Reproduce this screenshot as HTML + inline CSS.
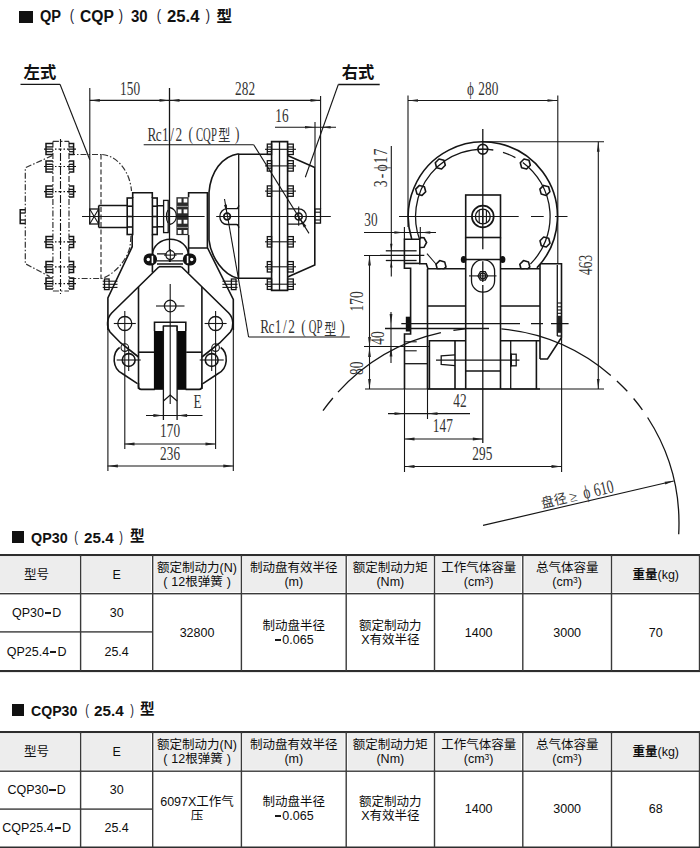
<!DOCTYPE html>
<html><head><meta charset="utf-8"><title>QP(CQP)30(25.4)</title><style>
html,body{margin:0;padding:0;background:#fff}
body{width:700px;height:848px;position:relative;overflow:hidden;font-family:"Liberation Sans","Noto Sans CJK SC",sans-serif;color:#0d0d0d}
.dw{position:absolute;left:0;top:0}
.ttl{position:absolute;left:0;width:400px;height:20px;font-weight:bold;font-size:15px;line-height:20px;white-space:nowrap;color:#111}
.ttl span,.ttl i,.ttl b{position:absolute;top:0}
.ttl i{background:#111}
.ttl b{font-weight:normal;color:#223}
.tb{position:absolute;left:0}
.c{position:absolute;display:flex;align-items:center;justify-content:center;text-align:center;font-size:12.5px;line-height:14px;white-space:nowrap}
.c s{display:inline-block;width:6.4px;height:2px;background:#1a1a1a;vertical-align:3.2px;margin:0 1px;text-decoration:none}
.c u{text-decoration:none;display:inline-block;width:12px}
.c sup{font-size:8.5px;line-height:0;vertical-align:3.5px}
.lbl{position:absolute;font-size:16.3px;line-height:16.3px;white-space:nowrap;color:#111;font-weight:bold}
</style></head><body>
<svg class="dw" width="700" height="545" viewBox="0 0 700 545" fill="none" stroke="#151515" stroke-linecap="butt"><path d="M52.9 141.4L52.9 291" stroke-width="1.2" stroke-dasharray="6 2 1.5 2" stroke="#333"/>
<path d="M69 141.4L69 291" stroke-width="1.2" stroke-dasharray="6 2 1.5 2" stroke="#333"/>
<path d="M60.5 139L60.5 294" stroke-width="1.1" stroke-dasharray="8 2 2 2"/>
<path d="M52.9 141.4L69 141.4" stroke-width="1.2" stroke-dasharray="6 2 1.5 2" stroke="#333"/>
<path d="M52.9 291L69 291" stroke-width="1.2" stroke-dasharray="6 2 1.5 2" stroke="#333"/>
<path d="M52.3 155.6L25.3 167.8L25.3 263.7L49.7 276.6" stroke-width="1.2" stroke-dasharray="6 2 1.5 2" stroke="#333"/>
<path d="M69 154.5L102.2 154.5" stroke-width="1.2" stroke-dasharray="6 2 1.5 2" stroke="#333"/>
<path d="M101 154.5L101 279" stroke-width="1.2" stroke-dasharray="5 2.5" stroke="#333"/>
<path d="M102.2 154.5C118 156 130 172 131.5 191" stroke-width="1.2" stroke-dasharray="6 2 1.5 2" stroke="#333"/>
<path d="M131 236L130 247C126 262 114 274 102.2 278.5L69 278.5" stroke-width="1.2" stroke-dasharray="6 2 1.5 2" stroke="#333"/>
<path d="M25.3 209.7L20.2 209.7L20.2 223.5L25.3 223.5" stroke-width="1.5" />
<path d="M20.2 213L25.3 213" stroke-width="1.3" />
<path d="M20.2 220L25.3 220" stroke-width="1.3" />
<path d="M52.9 143.6L46 143.6L46 154.6L52.9 154.6" stroke-width="1.5" />
<path d="M69 143.6L73.6 143.6L73.6 154.6L69 154.6" stroke-width="1.5" />
<path d="M44 149.1L76 149.1" stroke-width="1.1" stroke-dasharray="9 2 1.5 2 3 2 1.5 2"/>
<path d="M46 146.9L52.9 146.9" stroke-width="1.3" />
<path d="M46 151.7L52.9 151.7" stroke-width="1.3" />
<path d="M69 146.9L73.6 146.9" stroke-width="1.3" />
<path d="M69 151.7L73.6 151.7" stroke-width="1.3" />
<path d="M52.9 161L46 161L46 172L52.9 172" stroke-width="1.5" />
<path d="M69 161L73.6 161L73.6 172L69 172" stroke-width="1.5" />
<path d="M44 166.5L76 166.5" stroke-width="1.1" stroke-dasharray="9 2 1.5 2 3 2 1.5 2"/>
<path d="M46 164.3L52.9 164.3" stroke-width="1.3" />
<path d="M46 169.1L52.9 169.1" stroke-width="1.3" />
<path d="M69 164.3L73.6 164.3" stroke-width="1.3" />
<path d="M69 169.1L73.6 169.1" stroke-width="1.3" />
<path d="M52.9 186.1L46 186.1L46 197.1L52.9 197.1" stroke-width="1.5" />
<path d="M69 186.1L73.6 186.1L73.6 197.1L69 197.1" stroke-width="1.5" />
<path d="M44 191.6L76 191.6" stroke-width="1.1" stroke-dasharray="9 2 1.5 2 3 2 1.5 2"/>
<path d="M46 189.4L52.9 189.4" stroke-width="1.3" />
<path d="M46 194.2L52.9 194.2" stroke-width="1.3" />
<path d="M69 189.4L73.6 189.4" stroke-width="1.3" />
<path d="M69 194.2L73.6 194.2" stroke-width="1.3" />
<path d="M52.9 236.4L46 236.4L46 247.4L52.9 247.4" stroke-width="1.5" />
<path d="M69 236.4L73.6 236.4L73.6 247.4L69 247.4" stroke-width="1.5" />
<path d="M44 241.9L76 241.9" stroke-width="1.1" stroke-dasharray="9 2 1.5 2 3 2 1.5 2"/>
<path d="M46 239.7L52.9 239.7" stroke-width="1.3" />
<path d="M46 244.5L52.9 244.5" stroke-width="1.3" />
<path d="M69 239.7L73.6 239.7" stroke-width="1.3" />
<path d="M69 244.5L73.6 244.5" stroke-width="1.3" />
<path d="M52.9 261.4L46 261.4L46 272.4L52.9 272.4" stroke-width="1.5" />
<path d="M69 261.4L73.6 261.4L73.6 272.4L69 272.4" stroke-width="1.5" />
<path d="M44 266.9L76 266.9" stroke-width="1.1" stroke-dasharray="9 2 1.5 2 3 2 1.5 2"/>
<path d="M46 264.7L52.9 264.7" stroke-width="1.3" />
<path d="M46 269.5L52.9 269.5" stroke-width="1.3" />
<path d="M69 264.7L73.6 264.7" stroke-width="1.3" />
<path d="M69 269.5L73.6 269.5" stroke-width="1.3" />
<path d="M52.9 278.1L46 278.1L46 289.1L52.9 289.1" stroke-width="1.5" />
<path d="M69 278.1L73.6 278.1L73.6 289.1L69 289.1" stroke-width="1.5" />
<path d="M44 283.6L76 283.6" stroke-width="1.1" stroke-dasharray="9 2 1.5 2 3 2 1.5 2"/>
<path d="M46 281.4L52.9 281.4" stroke-width="1.3" />
<path d="M46 286.2L52.9 286.2" stroke-width="1.3" />
<path d="M69 281.4L73.6 281.4" stroke-width="1.3" />
<path d="M69 286.2L73.6 286.2" stroke-width="1.3" />
<rect x="89.7" y="209" width="9" height="15" stroke-width="1.3" />
<path d="M89.7 209L98.7 224" stroke-width="1.1" />
<path d="M98.7 209L89.7 224" stroke-width="1.1" />
<path d="M98.7 205.5L127.5 205.5M98.7 227.5L127.5 227.5M98.7 205.5L98.7 227.5" stroke-width="1.6" />
<rect x="127.2" y="198" width="5.5" height="36.5" stroke-width="1.6" />
<path d="M127.2 206.2L132.7 206.2" stroke-width="1.6" />
<path d="M127.2 216.5L132.7 216.5" stroke-width="1.6" />
<path d="M127.2 227L132.7 227" stroke-width="1.6" />
<path d="M132.7 198L132.7 192.7L152.3 192.7L152.3 198" stroke-width="1.6" />
<rect x="152.4" y="198" width="4.8" height="36.5" stroke-width="1.6" />
<path d="M152.4 206.2L157.2 206.2" stroke-width="1.6" />
<path d="M152.4 216.5L157.2 216.5" stroke-width="1.6" />
<path d="M152.4 227L157.2 227" stroke-width="1.6" />
<path d="M157.2 205.8L163.6 205.8M157.2 226.8L163.6 226.8" stroke-width="1.6" />
<rect x="163.6" y="200.4" width="4.6" height="32.2" stroke-width="1.3" />
<path d="M169.5 207.5C178.7 209 178.7 223 169.5 224.5" stroke-width="1.3" />
<path d="M168 210C165.8 213 165.8 220 168 223" stroke-width="1.1" />
<rect x="176.4" y="197.2" width="12.2" height="37.9" fill="#2b2b2b" stroke="none"/>
<rect x="177.8" y="198.6" width="3.7" height="3.9" fill="#fff" stroke="none"/>
<rect x="177.8" y="209.4" width="3.7" height="3.9" fill="#fff" stroke="none"/>
<rect x="177.8" y="219.8" width="3.7" height="3.9" fill="#fff" stroke="none"/>
<rect x="177.8" y="230" width="3.7" height="3.9" fill="#fff" stroke="none"/>
<rect x="183.6" y="198.6" width="3.7" height="3.9" fill="#fff" stroke="none"/>
<rect x="183.6" y="209.4" width="3.7" height="3.9" fill="#fff" stroke="none"/>
<rect x="183.6" y="219.8" width="3.7" height="3.9" fill="#fff" stroke="none"/>
<rect x="183.6" y="230" width="3.7" height="3.9" fill="#fff" stroke="none"/>
<rect x="176.9" y="205.9" width="11.2" height="1" fill="#999" stroke="none"/>
<rect x="176.9" y="226.9" width="11.2" height="1" fill="#999" stroke="none"/>
<path d="M188.6 197.2L188.6 192.7L207.4 192.7L207.4 248L188.6 248" stroke-width="1.6" />
<path d="M82 216.5L204.6 216.5" stroke-width="1.1" />
<path d="M169.5 88L169.5 262" stroke-width="1.3" />
<path d="M132.2 234.5L132.2 246.7L107.9 298L107.9 330" stroke-width="1.6" />
<path d="M152.4 234.5L152.4 272.5" stroke-width="1.6" />
<path d="M188.6 235L188.6 273" stroke-width="1.6" />
<path d="M207.6 248L233.3 299.4L233.3 330" stroke-width="1.6" />
<path d="M152.6 254.5A17.8 15.2 0 0 1 188.2 254.5" stroke-width="1.6" />
<path d="M157 253.8L183 253.8M157 260.8L183 260.8M157 264L183 264" stroke-width="1.3" />
<rect x="143.6" y="253.6" width="13.4" height="11.8" rx="5.5" fill="#111" stroke="none"/>
<rect x="182.9" y="253.6" width="13.4" height="11.8" rx="5.5" fill="#111" stroke="none"/>
<circle cx="148.3" cy="259.5" r="1.7" fill="#fff" stroke="none"/><rect x="151.6" y="255.8" width="1.6" height="7.4" fill="#fff" stroke="none"/>
<circle cx="191.7" cy="259.5" r="1.7" fill="#fff" stroke="none"/><rect x="186.8" y="255.8" width="1.6" height="7.4" fill="#fff" stroke="none"/>
<circle cx="170.3" cy="255.1" r="4.4" fill="#fff" stroke-width="1.3"/>
<path d="M170.3 249L170.3 262" stroke-width="1.1" />
<path d="M164 255.1L176.6 255.1" stroke-width="1.1" />
<path d="M159 266.7L181.4 266.7" stroke-width="1.6" />
<path d="M159 266.7L111.7 313C106.5 318.5 106.5 327 110 332L120.7 343L138.5 357" stroke-width="1.6" />
<path d="M181.4 266.7L228.7 313C233.9 318.5 233.9 327 230.4 332L219.7 343L201.9 357" stroke-width="1.6" />
<path d="M138.5 287L138.5 389" stroke-width="1.6" />
<path d="M201.9 287L201.9 389" stroke-width="1.6" />
<circle cx="124.8" cy="323.5" r="7" stroke-width="1.3" />
<path d="M113.8 323.5L135.8 323.5" stroke-width="1.1" />
<path d="M124.8 311L124.8 449" stroke-width="1.1" />
<circle cx="215.6" cy="323.5" r="7" stroke-width="1.3" />
<path d="M204.6 323.5L226.6 323.5" stroke-width="1.1" />
<path d="M215.6 311L215.6 449" stroke-width="1.1" />
<circle cx="170.2" cy="306" r="5.8" stroke-width="1.3" />
<path d="M156 306L184.5 306" stroke-width="1.1" />
<circle cx="128.7" cy="360" r="6.4" stroke-width="1.6" />
<path d="M116.7 360L140.7 360" stroke-width="1.1" />
<path d="M128.7 350L128.7 371" stroke-width="1.1" />
<circle cx="124.8" cy="347.6" r="3.8" stroke-width="1.1" />
<path d="M119.7 347.5C115.7 350 113.9 355 114.2 361C114.7 367 118.2 371.5 122.2 373.5L137.5 383.6" stroke-width="1.6" />
<path d="M138.2 352.2L154.2 352.2" stroke-width="1.6" />
<path d="M138.5 383L138.5 386.5C138.5 388.5 139.7 389.4 141.2 389.4L154.8 389.4" stroke-width="1.6" />
<circle cx="211.7" cy="360" r="6.4" stroke-width="1.6" />
<path d="M199.7 360L223.7 360" stroke-width="1.1" />
<path d="M211.7 350L211.7 371" stroke-width="1.1" />
<circle cx="215.6" cy="347.6" r="3.8" stroke-width="1.1" />
<path d="M220.7 347.5C224.7 350 226.5 355 226.2 361C225.7 367 222.2 371.5 218.2 373.5L202.9 383.6" stroke-width="1.6" />
<path d="M202.2 352.2L186.2 352.2" stroke-width="1.6" />
<path d="M201.9 383L201.9 386.5C201.9 388.5 200.7 389.4 199.2 389.4L185.6 389.4" stroke-width="1.6" />
<rect x="153.9" y="331" width="9.7" height="58.8" fill="#0a0a0a" stroke="none"/>
<rect x="177" y="331" width="9.4" height="58.8" fill="#0a0a0a" stroke="none"/>
<path d="M154.5 331L154.5 322.3L185.8 322.3L185.8 331" stroke-width="1.6" />
<path d="M163.4 331L163.4 326L177.1 326L177.1 331" stroke-width="1.3" />
<path d="M163.4 326L163.4 420M177.1 326L177.1 420" stroke-width="1.3" />
<path d="M163.4 401L170.2 395L177.1 401" stroke-width="1.3" />
<path d="M170.2 284L170.2 404" stroke-width="1.1" />
<rect x="104.5" y="279" width="4.6" height="10.6" stroke-width="1.3" />
<rect x="231.4" y="279" width="4.6" height="10.6" stroke-width="1.3" />
<path d="M102.7 281.2L117.5 281.2" stroke-width="1.1" />
<path d="M222.4 281.2L237.5 281.2" stroke-width="1.1" />
<path d="M102.7 284.3L117.5 284.3" stroke-width="1.1" />
<path d="M222.4 284.3L237.5 284.3" stroke-width="1.1" />
<path d="M102.7 287.4L117.5 287.4" stroke-width="1.1" />
<path d="M222.4 287.4L237.5 287.4" stroke-width="1.1" />
<path d="M107.9 330L107.9 471" stroke-width="1.1" />
<path d="M233.3 330L233.3 471" stroke-width="1.1" />
<path d="M124.5 444L215.5 444" stroke-width="1.1" />
<path d="M124.5 444.0L134.5 442.6L134.5 445.4Z" fill="#222" stroke="none"/>
<path d="M215.5 444.0L205.5 445.4L205.5 442.6Z" fill="#222" stroke="none"/>
<path d="M107.5 466L233.5 466" stroke-width="1.1" />
<path d="M107.9 466.0L117.9 464.6L117.9 467.4Z" fill="#222" stroke="none"/>
<path d="M233.3 466.0L223.3 467.4L223.3 464.6Z" fill="#222" stroke="none"/>
<path d="M146 415.5L202.5 415.5" stroke-width="1.1" />
<path d="M163.4 415.5L153.4 416.9L153.4 414.1Z" fill="#222" stroke="none"/>
<path d="M177.1 415.5L187.1 414.1L187.1 416.9Z" fill="#222" stroke="none"/>
<text transform="translate(170 437) scale(0.7 1)" x="-9.6 0.0 9.6" font-size="19" text-anchor="middle" fill="#333" stroke="none" font-family="Liberation Serif, serif">170</text>
<text transform="translate(170 460) scale(0.7 1)" x="-9.6 0.0 9.6" font-size="19" text-anchor="middle" fill="#333" stroke="none" font-family="Liberation Serif, serif">236</text>
<text transform="translate(197.5 408) scale(0.7 1)" x="0.0" font-size="19" text-anchor="middle" fill="#333" stroke="none" font-family="Liberation Serif, serif">E</text>
<path d="M238.7 153.7C222 156 210.5 172 209 192.5L209 240C211 258 224 275 237.8 278.2L271.6 278.2" stroke-width="1.6" />
<path d="M238.7 153.7L238.7 278" stroke-width="1.3" />
<path d="M238.7 154.2L271.6 154.2" stroke-width="1.6" />
<path d="M271.6 141.6L287.6 141.6L287.6 290.4L271.6 290.4Z" stroke-width="1.6" />
<path d="M279.5 141.6L279.5 290.4" stroke-width="1.3" />
<rect x="267.3" y="144.1" width="4.3" height="10.4" stroke-width="1.3" />
<rect x="287.6" y="144.1" width="5.7" height="10.4" stroke-width="1.3" />
<path d="M265 149.3L296 149.3" stroke-width="1.1" />
<path d="M267.3 147L271.6 147" stroke-width="1.1" />
<path d="M267.3 151.6L271.6 151.6" stroke-width="1.1" />
<path d="M287.6 147L293.3 147" stroke-width="1.1" />
<path d="M287.6 151.6L293.3 151.6" stroke-width="1.1" />
<rect x="267.3" y="160.7" width="4.3" height="10.4" stroke-width="1.3" />
<rect x="287.6" y="160.7" width="5.7" height="10.4" stroke-width="1.3" />
<path d="M265 165.9L296 165.9" stroke-width="1.1" />
<path d="M267.3 163.6L271.6 163.6" stroke-width="1.1" />
<path d="M267.3 168.2L271.6 168.2" stroke-width="1.1" />
<path d="M287.6 163.6L293.3 163.6" stroke-width="1.1" />
<path d="M287.6 168.2L293.3 168.2" stroke-width="1.1" />
<rect x="267.3" y="185.9" width="4.3" height="10.4" stroke-width="1.3" />
<rect x="287.6" y="185.9" width="5.7" height="10.4" stroke-width="1.3" />
<path d="M265 191.1L296 191.1" stroke-width="1.1" />
<path d="M267.3 188.8L271.6 188.8" stroke-width="1.1" />
<path d="M267.3 193.4L271.6 193.4" stroke-width="1.1" />
<path d="M287.6 188.8L293.3 188.8" stroke-width="1.1" />
<path d="M287.6 193.4L293.3 193.4" stroke-width="1.1" />
<rect x="267.3" y="236.6" width="4.3" height="10.4" stroke-width="1.3" />
<rect x="287.6" y="236.6" width="5.7" height="10.4" stroke-width="1.3" />
<path d="M265 241.8L296 241.8" stroke-width="1.1" />
<path d="M267.3 239.5L271.6 239.5" stroke-width="1.1" />
<path d="M267.3 244.1L271.6 244.1" stroke-width="1.1" />
<path d="M287.6 239.5L293.3 239.5" stroke-width="1.1" />
<path d="M287.6 244.1L293.3 244.1" stroke-width="1.1" />
<rect x="267.3" y="261.6" width="4.3" height="10.4" stroke-width="1.3" />
<rect x="287.6" y="261.6" width="5.7" height="10.4" stroke-width="1.3" />
<path d="M265 266.8L296 266.8" stroke-width="1.1" />
<path d="M267.3 264.5L271.6 264.5" stroke-width="1.1" />
<path d="M267.3 269.1L271.6 269.1" stroke-width="1.1" />
<path d="M287.6 264.5L293.3 264.5" stroke-width="1.1" />
<path d="M287.6 269.1L293.3 269.1" stroke-width="1.1" />
<rect x="267.3" y="279" width="4.3" height="10.4" stroke-width="1.3" />
<rect x="287.6" y="279" width="5.7" height="10.4" stroke-width="1.3" />
<path d="M265 284.2L296 284.2" stroke-width="1.1" />
<path d="M267.3 281.9L271.6 281.9" stroke-width="1.1" />
<path d="M267.3 286.5L271.6 286.5" stroke-width="1.1" />
<path d="M287.6 281.9L293.3 281.9" stroke-width="1.1" />
<path d="M287.6 286.5L293.3 286.5" stroke-width="1.1" />
<path d="M287.6 155.6L314.8 167.6L314.8 265L287.6 277.1" stroke-width="1.6" />
<rect x="314.8" y="209" width="5.7" height="14.1" stroke-width="1.3" />
<path d="M314.8 212.2L320.5 212.2" stroke-width="1.1" />
<path d="M314.8 220L320.5 220" stroke-width="1.1" />
<circle cx="227.1" cy="216.5" r="3.3" stroke-width="1.7" />
<path d="M238.7 205.2C238.7 207.5 238 208.7 236.5 208.7L227.1 208.7A7.3 7.9 0 0 0 227.1 224.5L236.5 224.5C238 224.5 238.7 225.7 238.7 228" stroke-width="1.3" />
<circle cx="298.7" cy="216.5" r="3.5" stroke-width="1.7" />
<path d="M287.6 208.8L298.7 208.8A7.7 7.7 0 0 1 298.7 224.2L287.6 224.2" stroke-width="1.3" />
<path d="M298.7 206.4L298.7 225.7" stroke-width="1.1" />
<path d="M216.2 216.5L330.8 216.5" stroke-width="1.1" />
<path d="M227.0 213.5L224.0 204.9L226.9 204.4Z" fill="#222" stroke="none"/>
<path d="M299.8 218.3L306.4 226.0L303.8 227.6Z" fill="#222" stroke="none"/>
<path d="M89.8 88L89.8 209" stroke-width="1.1" />
<path d="M89.8 100.4L320.5 100.4" stroke-width="1.1" />
<path d="M89.8 100.4L99.8 99.1L99.8 101.8Z" fill="#222" stroke="none"/>
<path d="M169.5 100.4L159.5 101.8L159.5 99.1Z" fill="#222" stroke="none"/>
<path d="M169.5 100.4L179.5 99.1L179.5 101.8Z" fill="#222" stroke="none"/>
<path d="M320.5 100.4L310.5 101.8L310.5 99.1Z" fill="#222" stroke="none"/>
<text transform="translate(130 95) scale(0.7 1)" x="-9.6 0.0 9.6" font-size="19" text-anchor="middle" fill="#333" stroke="none" font-family="Liberation Serif, serif">150</text>
<text transform="translate(245 95) scale(0.7 1)" x="-9.6 0.0 9.6" font-size="19" text-anchor="middle" fill="#333" stroke="none" font-family="Liberation Serif, serif">282</text>
<path d="M315 122L315 167" stroke-width="1.1" />
<path d="M320.6 96L320.6 209" stroke-width="1.1" />
<path d="M275 127.2L336 127.2" stroke-width="1.1" />
<path d="M315.0 127.2L305.0 128.6L305.0 125.9Z" fill="#222" stroke="none"/>
<path d="M320.6 127.2L330.6 125.9L330.6 128.6Z" fill="#222" stroke="none"/>
<text transform="translate(282 121.5) scale(0.7 1)" x="-4.8 4.8" font-size="19" text-anchor="middle" fill="#333" stroke="none" font-family="Liberation Serif, serif">16</text>
<path d="M20.5 84.4L60 84.4" stroke-width="1.3" />
<path d="M60 84.3L89.8 159.7" stroke-width="1.1" />
<path d="M338.3 84.5L379.7 84.5" stroke-width="1.3" />
<path d="M338.3 84.5L305.3 177.3" stroke-width="1.1" />
<path d="M143.7 144.8L253.7 144.8" stroke-width="1.1" />
<path d="M253.7 144.8L309 233.4" stroke-width="1.1" />
<text transform="translate(148.6 140.6) scale(0.7 1)" x="4.8 14.4 23.9 33.5 43.1" font-size="19" text-anchor="middle" fill="#333" stroke="none" font-family="Liberation Serif, serif">Rc1/2</text>
<text transform="translate(187.3 140) scale(0.7 1)" x="4.8" font-size="19" text-anchor="middle" fill="#333" stroke="none" font-family="Liberation Serif, serif">(</text>
<text transform="translate(196 140.6) scale(0.56 1)" x="6.4 19.3 32.1" font-size="19" text-anchor="middle" fill="#333" stroke="none" font-family="Liberation Serif, serif">CQP</text>
<text transform="translate(233.8 140) scale(0.7 1)" x="4.8" font-size="19" text-anchor="middle" fill="#333" stroke="none" font-family="Liberation Serif, serif">)</text>
<text transform="translate(218.3 141.3) scale(0.78 1)" x="0" y="0" font-size="15.5" fill="#333" stroke="none" font-family="Liberation Sans, Noto Sans CJK SC, sans-serif">型</text>
<path d="M224.5 199L248.6 337" stroke-width="1.1" />
<path d="M248.6 337L349.8 337" stroke-width="1.1" />
<text transform="translate(261.4 333.3) scale(0.7 1)" x="4.8 14.4 23.9 33.5 43.1" font-size="19" text-anchor="middle" fill="#333" stroke="none" font-family="Liberation Serif, serif">Rc1/2</text>
<text transform="translate(300.1 332.7) scale(0.7 1)" x="4.8" font-size="19" text-anchor="middle" fill="#333" stroke="none" font-family="Liberation Serif, serif">(</text>
<text transform="translate(309 333.3) scale(0.56 1)" x="6.2 18.5" font-size="19" text-anchor="middle" fill="#333" stroke="none" font-family="Liberation Serif, serif">QP</text>
<text transform="translate(339.1 332.7) scale(0.7 1)" x="4.8" font-size="19" text-anchor="middle" fill="#333" stroke="none" font-family="Liberation Serif, serif">)</text>
<text transform="translate(324.3 334.5) scale(0.78 1)" x="0" y="0" font-size="15.5" fill="#333" stroke="none" font-family="Liberation Sans, Noto Sans CJK SC, sans-serif">型</text>
<path d="M411.7 238.9A74.6 74.6 0 1 1 536.9 267.9" stroke-width="1.6" />
<path d="M419.6 239.5A67.3 67.3 0 0 1 493.3 150.0" stroke-width="1.3" />
<path d="M503.0 152.3A67.3 67.3 0 0 1 515.4 157.6" stroke-width="1.3" />
<path d="M522.8 162.4A67.3 67.3 0 0 1 530.4 264.1" stroke-width="1.3" />
<circle cx="482.8" cy="149.3" r="4.9" stroke-width="1.7" />
<path d="M477 149.3L489 149.3" stroke-width="1.1" />
<path d="M445.3 165.3L441.6 169.0L436.6 167.7L435.3 162.7L439.0 159.0L444.0 160.3Z" stroke-width="1.6" stroke-linejoin="round"/>
<path d="M425.7 191.7L422.0 195.4L417.0 194.1L415.7 189.1L419.4 185.4L424.4 186.7Z" stroke-width="1.6" stroke-linejoin="round"/>
<path d="M530.3 165.3L526.6 169.0L521.6 167.7L520.3 162.7L524.0 159.0L529.0 160.3Z" stroke-width="1.6" stroke-linejoin="round"/>
<path d="M549.9 191.7L546.2 195.4L541.2 194.1L539.9 189.1L543.6 185.4L548.6 186.7Z" stroke-width="1.6" stroke-linejoin="round"/>
<path d="M550.0 243.3L546.3 247.0L541.3 245.7L540.0 240.7L543.7 237.0L548.7 238.3Z" stroke-width="1.6" stroke-linejoin="round"/>
<path d="M529.8 266.9L526.1 270.6L521.1 269.3L519.8 264.3L523.5 260.6L528.5 261.9Z" stroke-width="1.6" stroke-linejoin="round"/>
<path d="M446.0 266.9L442.3 270.6L437.3 269.3L436.0 264.3L439.7 260.6L444.7 261.9Z" stroke-width="1.6" stroke-linejoin="round"/>
<rect x="429" y="269.4" width="36" height="8" fill="#fff" stroke="none"/><rect x="501.3" y="269.4" width="38" height="8" fill="#fff" stroke="none"/>
<path d="M420 237.6L424 237.8L426.6 242.5L424 247.3L420 247.5" stroke-width="1.6" />
<path d="M482.8 129L482.8 249.2M482.8 261.3L482.8 282M482.8 285L482.8 443" stroke-width="1.3" />
<path d="M399 216.5L518.7 216.5M531 216.5L543.7 216.5M555 216.5L567.5 216.5" stroke-width="1.1" />
<rect x="465.7" y="195" width="34.8" height="42.5" stroke-width="1.6" />
<circle cx="482.8" cy="216.5" r="10.9" stroke-width="1.7" />
<circle cx="482.8" cy="216.5" r="7.4" stroke-width="1.3" />
<path d="M479.2 210L479.2 223" stroke-width="1.1" />
<path d="M482.8 210L482.8 223" stroke-width="1.1" />
<path d="M486.4 210L486.4 223" stroke-width="1.1" />
<path d="M475.5 216.5L490 216.5" stroke-width="1.1" />
<path d="M465.7 237.5L465.7 389" stroke-width="1.6" />
<path d="M500.5 237.5L500.5 389" stroke-width="1.6" />
<path d="M463 259.5L503 259.5" stroke-width="1.6" />
<ellipse cx="463.6" cy="259.5" rx="2.8" ry="3.5" fill="#111" stroke="none"/><ellipse cx="502.6" cy="259.5" rx="2.8" ry="3.5" fill="#111" stroke="none"/>
<rect x="471.5" y="259.6" width="23.1" height="32.6" rx="11.5" stroke-width="1.3"/>
<circle cx="482.8" cy="275.9" r="2.8" stroke-width="1.3" />
<path d="M469 275.9L496.5 275.9" stroke-width="1.1" />
<path d="M487.6 275.9L485.2 280.1L480.4 280.1L478.0 275.9L480.4 271.7L485.2 271.7Z" stroke-width="1.3" />
<path d="M465.7 371L500.5 371" stroke-width="1.6" />
<path d="M427.5 268.7L465.7 268.7M500.5 268.7L540 268.7" stroke-width="1.6" />
<path d="M427.5 306L465.7 306M500.5 306L540 306" stroke-width="1.6" />
<path d="M427.5 268.7L427.5 389" stroke-width="1.6" />
<path d="M540 264L540 359" stroke-width="1.6" />
<path d="M404.4 263L404.4 239.3L419.8 239.3L419.8 263.7L426.3 263.7L428 268.7" stroke-width="1.6" />
<path d="M385.8 250.8L416.6 250.8" stroke-width="1.3" />
<path d="M380 255.3L424.3 255.3" stroke-width="1.3" />
<path d="M385.8 260.5L416.6 260.5" stroke-width="1.3" />
<path d="M391.3 250.8L390.1 243.8L392.5 243.8Z" fill="#222" stroke="none"/>
<path d="M391.3 260.5L392.5 267.5L390.1 267.5Z" fill="#222" stroke="none"/>
<path d="M404.4 263L404.4 268.2L410.6 268.2L410.6 334L404.5 334L404.5 389" stroke-width="1.6" />
<path d="M404.4 263.4L419.8 263.4" stroke-width="1.6" />
<path d="M405 341.8L416.7 341.8" stroke-width="1.1" />
<path d="M405 350.8L416.7 350.8" stroke-width="1.1" />
<path d="M404.5 363.7L427.5 363.7" stroke-width="1.3" />
<rect x="405.8" y="316.7" width="4.5" height="14.8" fill="#111" stroke="none"/>
<path d="M404.5 388L404.5 472" stroke-width="1.1" />
<path d="M429.4 389L429.4 340.7L465.6 340.7" stroke-width="1.6" />
<path d="M455 340.7L455 389" stroke-width="1.6" />
<path d="M500.5 340.7L540 340.7M536.4 340.7L536.4 389" stroke-width="1.6" />
<path d="M510.7 340.7L510.7 389" stroke-width="1.3" />
<path d="M455 354.8L441.2 355.9L441.2 364.5L455 365.6" stroke-width="1.3" />
<path d="M436 360.2L519.5 360.2" stroke-width="1.3" />
<rect x="511" y="354.2" width="5.2" height="11.6" stroke-width="1.3" />
<path d="M511 353.5L511 366.5" stroke-width="1.8" />
<path d="M540 263.7L561.5 263.7L561.5 337.5L547.5 359L540 359" stroke-width="1.6" />
<path d="M557.3 265L557.3 336" stroke-width="1.3" />
<path d="M557.3 336L561.5 336" stroke-width="1.3" />
<rect x="556.9" y="315.8" width="4.4" height="17" fill="#222" stroke="none"/>
<path d="M557.3 303L561.5 303" stroke-width="1.1" />
<path d="M557.3 306.8L561.5 306.8" stroke-width="1.1" />
<path d="M557.3 310L561.5 310" stroke-width="1.1" />
<path d="M557.3 313.3L561.5 313.3" stroke-width="1.1" />
<path d="M401.3 323.6L520 323.6M531 323.6L543 323.6M551 323.6L568.6 323.6" stroke-width="1.1" />
<path d="M385 328.5L489 328.5" stroke-width="1.3" />
<path d="M365 389L604 389" stroke-width="1.1" />
<path d="M427.5 389L540 389" stroke-width="1.6" />
<path d="M408 95.5L408 227" stroke-width="1.1" />
<path d="M557.8 95.5L557.8 264" stroke-width="1.1" />
<path d="M408 100.5L557.5 100.5" stroke-width="1.1" />
<path d="M408.0 100.5L418.0 99.2L418.0 101.8Z" fill="#222" stroke="none"/>
<path d="M557.5 100.5L547.5 101.8L547.5 99.2Z" fill="#222" stroke="none"/>
<text transform="translate(470.5 95) scale(0.7 1)" x="0.0" font-size="19" text-anchor="middle" fill="#333" stroke="none" font-family="Liberation Serif, serif">ϕ</text>
<text transform="translate(488.4 95) scale(0.7 1)" x="-9.6 0.0 9.6" font-size="19" text-anchor="middle" fill="#333" stroke="none" font-family="Liberation Serif, serif">280</text>
<path d="M483 141.7L604 141.7" stroke-width="1.1" />
<path d="M598.3 141.7L598.3 389" stroke-width="1.1" />
<path d="M598.3 141.7L599.6 151.7L596.9 151.7Z" fill="#222" stroke="none"/>
<path d="M598.3 389.0L596.9 379.0L599.6 379.0Z" fill="#222" stroke="none"/>
<text transform="translate(591.5 265) rotate(-90) scale(0.7 1)" x="-9.6 0.0 9.6" font-size="19" text-anchor="middle" fill="#333" stroke="none" font-family="Liberation Serif, serif">463</text>
<path d="M391.3 146L391.3 276.5" stroke-width="1.1" />
<text transform="translate(386.5 168) rotate(-90) scale(0.7 1)" x="-22.6 -11.3 0.0 11.3 22.6" font-size="19.5" text-anchor="middle" fill="#333" stroke="none" font-family="Liberation Serif, serif">3-ϕ17</text>
<path d="M364 232.5L436 232.5" stroke-width="1.1" />
<path d="M404.4 232.5L394.4 233.8L394.4 231.2Z" fill="#222" stroke="none"/>
<path d="M420.3 232.5L430.3 231.2L430.3 233.8Z" fill="#222" stroke="none"/>
<path d="M404.4 227L404.4 239.3" stroke-width="1.1" />
<path d="M420.3 227L420.3 239.3" stroke-width="1.1" />
<text transform="translate(371 226) scale(0.7 1)" x="-4.8 4.8" font-size="19" text-anchor="middle" fill="#333" stroke="none" font-family="Liberation Serif, serif">30</text>
<path d="M427 253.7L436.8 265" stroke-width="1.1" />
<path d="M369.5 255.5L369.5 389" stroke-width="1.1" />
<path d="M369.5 255.5L370.9 265.5L368.1 265.5Z" fill="#222" stroke="none"/>
<path d="M369.5 347.0L368.1 337.0L370.9 337.0Z" fill="#222" stroke="none"/>
<path d="M369.5 347.0L370.9 357.0L368.1 357.0Z" fill="#222" stroke="none"/>
<path d="M369.5 389.0L368.1 379.0L370.9 379.0Z" fill="#222" stroke="none"/>
<path d="M364 255.5L405 255.5" stroke-width="1.1" />
<path d="M364 346.5L429 346.5" stroke-width="1.1" />
<text transform="translate(363.3 301.5) rotate(-90) scale(0.7 1)" x="-9.6 0.0 9.6" font-size="19" text-anchor="middle" fill="#333" stroke="none" font-family="Liberation Serif, serif">170</text>
<text transform="translate(363.3 368.2) rotate(-90) scale(0.7 1)" x="-4.8 4.8" font-size="19" text-anchor="middle" fill="#333" stroke="none" font-family="Liberation Serif, serif">80</text>
<path d="M391 312L391 363" stroke-width="1.1" />
<path d="M391.0 324.0L389.6 314.0L392.4 314.0Z" fill="#222" stroke="none"/>
<path d="M391.0 346.5L392.4 356.5L389.6 356.5Z" fill="#222" stroke="none"/>
<text transform="translate(383.6 338) rotate(-90) scale(0.7 1)" x="-4.8 4.8" font-size="19" text-anchor="middle" fill="#333" stroke="none" font-family="Liberation Serif, serif">40</text>
<path d="M427.5 389L427.5 419" stroke-width="1.1" />
<path d="M388 413.6L470 413.6" stroke-width="1.1" />
<path d="M404.5 413.6L394.5 415.0L394.5 412.2Z" fill="#222" stroke="none"/>
<path d="M427.5 413.6L437.5 412.2L437.5 415.0Z" fill="#222" stroke="none"/>
<text transform="translate(460 407.4) scale(0.7 1)" x="-4.8 4.8" font-size="19" text-anchor="middle" fill="#333" stroke="none" font-family="Liberation Serif, serif">42</text>
<path d="M404.5 439L482.8 439" stroke-width="1.1" />
<path d="M404.5 439.0L414.5 437.6L414.5 440.4Z" fill="#222" stroke="none"/>
<path d="M482.8 439.0L472.8 440.4L472.8 437.6Z" fill="#222" stroke="none"/>
<text transform="translate(442.8 431.6) scale(0.7 1)" x="-9.6 0.0 9.6" font-size="19" text-anchor="middle" fill="#333" stroke="none" font-family="Liberation Serif, serif">147</text>
<path d="M561.6 338L561.6 472" stroke-width="1.1" />
<path d="M404.5 466.5L561.5 466.5" stroke-width="1.1" />
<path d="M404.5 466.5L414.5 465.1L414.5 467.9Z" fill="#222" stroke="none"/>
<path d="M561.5 466.5L551.5 467.9L551.5 465.1Z" fill="#222" stroke="none"/>
<text transform="translate(482.3 459.6) scale(0.7 1)" x="-9.6 0.0 9.6" font-size="19" text-anchor="middle" fill="#333" stroke="none" font-family="Liberation Serif, serif">295</text>
<path d="M323.0 410.7A196 196 0 0 1 332.9 398.0" stroke-width="1.3" />
<path d="M338.0 392.1A196 196 0 0 1 440.9 332.6" stroke-width="1.3" />
<path d="M453.4 330.3A196 196 0 0 1 464.9 328.8" stroke-width="1.3" />
<path d="M501.4 328.9A196 196 0 0 1 610.8 375.4" stroke-width="1.3" />
<path d="M616.9 380.9A196 196 0 0 1 627.3 391.3" stroke-width="1.3" />
<path d="M633.6 398.5A196 196 0 0 1 642.4 409.9" stroke-width="1.3" />
<path d="M647.6 417.5A196 196 0 0 1 678.7 534.3" stroke-width="1.3" />
<path d="M483 525.4L673.7 481" stroke-width="1.1" />
<path d="M673.7 481.0L665.3 484.4L664.6 481.7Z" fill="#222" stroke="none"/>
<g transform="translate(542.5 508.3) rotate(-13.1)">
<text transform="translate(0 0) scale(0.948 1)" x="0" y="0" font-size="13.5" fill="#333" stroke="none" font-family="Liberation Sans, Noto Sans CJK SC, sans-serif">盘</text>
<text transform="translate(13 0) scale(0.948 1)" x="0" y="0" font-size="13.5" fill="#333" stroke="none" font-family="Liberation Sans, Noto Sans CJK SC, sans-serif">径</text>
<text transform="translate(32.5 0.5) scale(0.95 1)" x="0.0" font-size="15" text-anchor="middle" fill="#333" stroke="none" font-family="Liberation Serif, serif">≥</text>
<text transform="translate(46.5 0.5) scale(0.7 1)" x="0.0" font-size="19" text-anchor="middle" fill="#333" stroke="none" font-family="Liberation Serif, serif">ϕ</text>
<text transform="translate(64 0.5) scale(0.7 1)" x="-9.6 0.0 9.6" font-size="19" text-anchor="middle" fill="#333" stroke="none" font-family="Liberation Serif, serif">610</text>
</g></svg>
<div class="ttl" style="top:0;font-size:16px;line-height:16px"><i style="left:19.4px;top:11px;width:13.3px;height:12.4px"></i><span style="left:39.90px;top:9.11px;transform:scaleX(0.912);transform-origin:0 0">QP</span><span style="left:79.90px;top:9.11px;transform:scaleX(0.976);transform-origin:0 0">CQP</span><span style="left:131.10px;top:9.11px;transform:scaleX(0.935);transform-origin:0 0">30</span><span style="left:166.60px;top:9.11px;transform:scaleX(1.044);transform-origin:0 0">25.4</span><b style="left:65.7px;top:7.95px;width:12px;text-align:center;font-size:16px;line-height:16px;transform:scaleX(0.8)">(</b><b style="left:115.4px;top:7.95px;width:12px;text-align:center;font-size:16px;line-height:16px;transform:scaleX(0.8)">)</b><b style="left:152.6px;top:7.95px;width:12px;text-align:center;font-size:16px;line-height:16px;transform:scaleX(0.8)">(</b><b style="left:201.5px;top:7.95px;width:12px;text-align:center;font-size:16px;line-height:16px;transform:scaleX(0.8)">)</b><span style="left:216.4px;top:8.6px;font-size:15.6px;line-height:16px">型</span></div>
<div class="lbl" style="left:23.6px;top:64px">左式</div>
<div class="lbl" style="left:341.8px;top:64px">右式</div>
<div class="ttl" style="top:0;font-size:15px;line-height:15px"><i style="left:11.9px;top:531.3px;width:12px;height:12px"></i><span style="left:31.30px;top:530.24px;transform:scaleX(0.954);transform-origin:0 0">QP30</span><span style="left:84.30px;top:530.24px;transform:scaleX(1.015);transform-origin:0 0">25.4</span><b style="left:70.3px;top:530.91px;width:12px;text-align:center;font-size:13.8px;line-height:13.8px;transform:scaleX(0.8)">(</b><b style="left:115.4px;top:530.91px;width:12px;text-align:center;font-size:13.8px;line-height:13.8px;transform:scaleX(0.8)">)</b><span style="left:130px;top:529.4px;font-size:14.6px;line-height:15px">型</span></div>
<svg class="tb" style="top:552px" width="700" height="124" viewBox="0 552 700 124"><rect x="0" y="557" width="79" height="35.2" fill="#ededed"/><rect x="82.2" y="557" width="68.9" height="35.2" fill="#ededed"/><rect x="154.3" y="557" width="85.5" height="35.2" fill="#ededed"/><rect x="243" y="557" width="101.6" height="35.2" fill="#ededed"/><rect x="347.8" y="557" width="85.1" height="35.2" fill="#ededed"/><rect x="436.1" y="557" width="85.1" height="35.2" fill="#ededed"/><rect x="524.4" y="557" width="85.5" height="35.2" fill="#ededed"/><rect x="613.1" y="557" width="85.3" height="35.2" fill="#ededed"/><rect x="0" y="554" width="700" height="2.1" fill="#2e2e2e"/><rect x="0" y="670" width="700" height="2.1" fill="#2e2e2e"/><rect x="0" y="593" width="700" height="1.4" fill="#3a3a3a"/><rect x="0" y="631.2" width="152.7" height="1.4" fill="#3a3a3a"/><rect x="79.9" y="555" width="1.4" height="116" fill="#3a3a3a"/><rect x="152" y="555" width="1.4" height="116" fill="#3a3a3a"/><rect x="240.7" y="555" width="1.4" height="116" fill="#3a3a3a"/><rect x="345.5" y="555" width="1.4" height="116" fill="#3a3a3a"/><rect x="433.8" y="555" width="1.4" height="116" fill="#3a3a3a"/><rect x="522.1" y="555" width="1.4" height="116" fill="#3a3a3a"/><rect x="610.8" y="555" width="1.4" height="116" fill="#3a3a3a"/><rect x="698.8" y="555" width="1.2" height="116" fill="#3a3a3a"/></svg>
<div class="c" style="left:-7.4px;width:88px;top:556px;height:37.7px"><span>型号</span></div>
<div class="c" style="left:80.6px;width:72.1px;top:556px;height:37.7px"><span>E</span></div>
<div class="c" style="left:152.7px;width:88.7px;top:556px;height:37.7px"><span>额定制动力(N)<br><u>(</u>12根弹簧<u>)</u></span></div>
<div class="c" style="left:241.4px;width:104.8px;top:556px;height:37.7px"><span>制动盘有效半径<br>(m)</span></div>
<div class="c" style="left:346.2px;width:88.3px;top:556px;height:37.7px"><span>额定制动力矩<br>(Nm)</span></div>
<div class="c" style="left:434.5px;width:88.3px;top:556px;height:37.7px"><span>工作气体容量<br>(cm<sup>3</sup>)</span></div>
<div class="c" style="left:522.8px;width:88.7px;top:556px;height:37.7px"><span>总气体容量<br>(cm<sup>3</sup>)</span></div>
<div class="c" style="left:611.5px;width:88.5px;top:556px;height:37.7px"><span><span style="font-weight:bold">重量</span>(kg)</span></div>
<div class="c d" style="left:-7.4px;width:88px;top:594.7px;height:37.2px"><span>QP30<s></s>D</span></div>
<div class="c d" style="left:-7.4px;width:88px;top:632.9px;height:38.1px"><span>QP25.4<s></s>D</span></div>
<div class="c d" style="left:80.6px;width:72.1px;top:594.7px;height:37.2px"><span>30</span></div>
<div class="c d" style="left:80.6px;width:72.1px;top:632.9px;height:38.1px"><span>25.4</span></div>
<div class="c d" style="left:152.7px;width:88.7px;top:594.7px;height:76.3px"><span>32800</span></div>
<div class="c d" style="left:241.4px;width:104.8px;top:594.7px;height:76.3px"><span>制动盘半径<br><s></s>0.065</span></div>
<div class="c d" style="left:346.2px;width:88.3px;top:594.7px;height:76.3px"><span>额定制动力<br>X有效半径</span></div>
<div class="c d" style="left:434.5px;width:88.3px;top:594.7px;height:76.3px"><span>1400</span></div>
<div class="c d" style="left:522.8px;width:88.7px;top:594.7px;height:76.3px"><span>3000</span></div>
<div class="c d" style="left:611.5px;width:88.5px;top:594.7px;height:76.3px"><span>70</span></div>
<div class="ttl" style="top:0;font-size:15px;line-height:15px"><i style="left:11.9px;top:704.3px;width:12px;height:12px"></i><span style="left:31.30px;top:703.24px;transform:scaleX(0.940);transform-origin:0 0">CQP30</span><span style="left:94.30px;top:703.24px;transform:scaleX(1.015);transform-origin:0 0">25.4</span><b style="left:80.9px;top:703.91px;width:12px;text-align:center;font-size:13.8px;line-height:13.8px;transform:scaleX(0.8)">(</b><b style="left:126px;top:703.91px;width:12px;text-align:center;font-size:13.8px;line-height:13.8px;transform:scaleX(0.8)">)</b><span style="left:140px;top:702.4px;font-size:14.6px;line-height:15px">型</span></div>
<svg class="tb" style="top:728.5px" width="700" height="124" viewBox="0 728.5 700 124"><rect x="0" y="733.5" width="79" height="35.7" fill="#ededed"/><rect x="82.2" y="733.5" width="68.9" height="35.7" fill="#ededed"/><rect x="154.3" y="733.5" width="85.5" height="35.7" fill="#ededed"/><rect x="243" y="733.5" width="101.6" height="35.7" fill="#ededed"/><rect x="347.8" y="733.5" width="85.1" height="35.7" fill="#ededed"/><rect x="436.1" y="733.5" width="85.1" height="35.7" fill="#ededed"/><rect x="524.4" y="733.5" width="85.5" height="35.7" fill="#ededed"/><rect x="613.1" y="733.5" width="85.3" height="35.7" fill="#ededed"/><rect x="0" y="730.5" width="700" height="2.1" fill="#2e2e2e"/><rect x="0" y="846" width="700" height="2.1" fill="#2e2e2e"/><rect x="0" y="770" width="700" height="1.4" fill="#3a3a3a"/><rect x="0" y="807.9" width="152.7" height="1.4" fill="#3a3a3a"/><rect x="79.9" y="731.5" width="1.4" height="115.5" fill="#3a3a3a"/><rect x="152" y="731.5" width="1.4" height="115.5" fill="#3a3a3a"/><rect x="240.7" y="731.5" width="1.4" height="115.5" fill="#3a3a3a"/><rect x="345.5" y="731.5" width="1.4" height="115.5" fill="#3a3a3a"/><rect x="433.8" y="731.5" width="1.4" height="115.5" fill="#3a3a3a"/><rect x="522.1" y="731.5" width="1.4" height="115.5" fill="#3a3a3a"/><rect x="610.8" y="731.5" width="1.4" height="115.5" fill="#3a3a3a"/><rect x="698.8" y="731.5" width="1.2" height="115.5" fill="#3a3a3a"/></svg>
<div class="c" style="left:-7.4px;width:88px;top:732.5px;height:38.2px"><span>型号</span></div>
<div class="c" style="left:80.6px;width:72.1px;top:732.5px;height:38.2px"><span>E</span></div>
<div class="c" style="left:152.7px;width:88.7px;top:732.5px;height:38.2px"><span>额定制动力(N)<br><u>(</u>12根弹簧<u>)</u></span></div>
<div class="c" style="left:241.4px;width:104.8px;top:732.5px;height:38.2px"><span>制动盘有效半径<br>(m)</span></div>
<div class="c" style="left:346.2px;width:88.3px;top:732.5px;height:38.2px"><span>额定制动力矩<br>(Nm)</span></div>
<div class="c" style="left:434.5px;width:88.3px;top:732.5px;height:38.2px"><span>工作气体容量<br>(cm<sup>3</sup>)</span></div>
<div class="c" style="left:522.8px;width:88.7px;top:732.5px;height:38.2px"><span>总气体容量<br>(cm<sup>3</sup>)</span></div>
<div class="c" style="left:611.5px;width:88.5px;top:732.5px;height:38.2px"><span><span style="font-weight:bold">重量</span>(kg)</span></div>
<div class="c d" style="left:-7.4px;width:88px;top:771.7px;height:36.9px"><span>CQP30<s></s>D</span></div>
<div class="c d" style="left:-7.4px;width:88px;top:809.6px;height:37.4px"><span>CQP25.4<s></s>D</span></div>
<div class="c d" style="left:80.6px;width:72.1px;top:771.7px;height:36.9px"><span>30</span></div>
<div class="c d" style="left:80.6px;width:72.1px;top:809.6px;height:37.4px"><span>25.4</span></div>
<div class="c d" style="left:152.7px;width:88.7px;top:771.7px;height:75.3px"><span>6097X工作气<br>压</span></div>
<div class="c d" style="left:241.4px;width:104.8px;top:771.7px;height:75.3px"><span>制动盘半径<br><s></s>0.065</span></div>
<div class="c d" style="left:346.2px;width:88.3px;top:771.7px;height:75.3px"><span>额定制动力<br>X有效半径</span></div>
<div class="c d" style="left:434.5px;width:88.3px;top:771.7px;height:75.3px"><span>1400</span></div>
<div class="c d" style="left:522.8px;width:88.7px;top:771.7px;height:75.3px"><span>3000</span></div>
<div class="c d" style="left:611.5px;width:88.5px;top:771.7px;height:75.3px"><span>68</span></div>
</body></html>
